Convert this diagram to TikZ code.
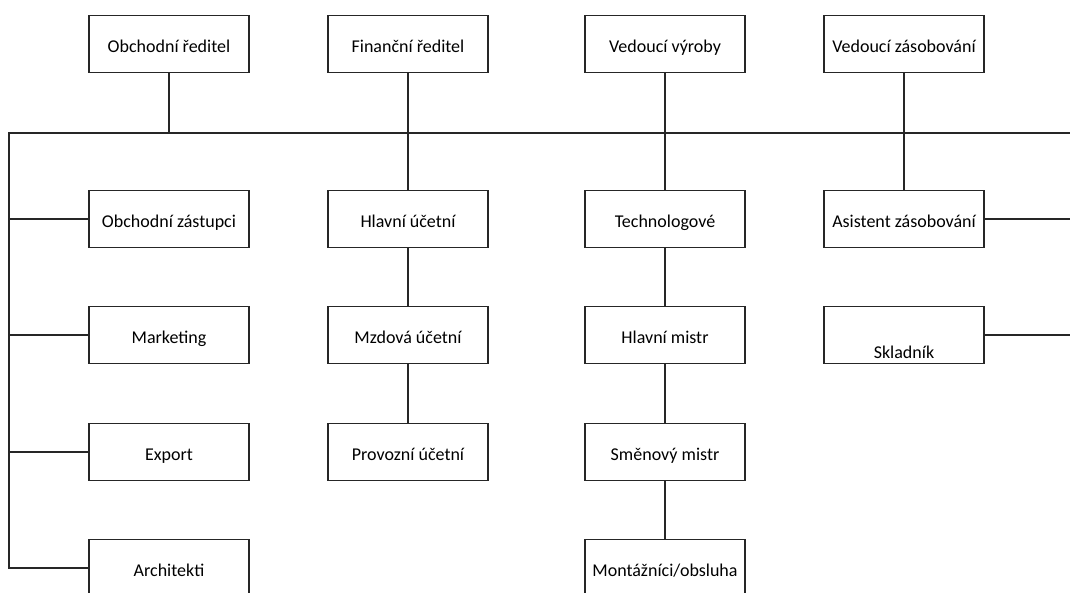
\documentclass[tikz,border=0pt]{standalone}
\usepackage{fontspec}
\setmainfont{Carlito}
\begin{document}
\begin{tikzpicture}[x=1pt,y=-1pt,
  lbl/.style={font=\fontsize{18}{20}\selectfont,text height=20pt,text depth=3pt},
  box/.style={lbl,draw=black!85,line width=1.4pt,minimum width=160pt,minimum height=57pt,inner sep=0pt},
  conn/.style={draw=black!85,line width=1.4pt}]
\useasboundingbox (0,0) rectangle (1070,593);
\clip (0,0) rectangle (1070,593);
% top row
\node[box] (or) at (169,44) {Obchodní ředitel};
\node[box] (fr) at (408,44) {Finanční ředitel};
\node[box] (vv) at (665,44) {Vedoucí výroby};
\node[box] (vz) at (904,44) {Vedoucí zásobování};
% column 1
\node[box] (oz) at (169,219) {Obchodní zástupci};
\node[box] (mk) at (169,335) {Marketing};
\node[box] (ex) at (169,452) {Export};
\node[box] (ar) at (169,568) {Architekti};
% column 2
\node[box] (hu) at (408,219) {Hlavní účetní};
\node[box] (mu) at (408,335) {Mzdová účetní};
\node[box] (pu) at (408,452) {Provozní účetní};
% column 3
\node[box] (te) at (665,219) {Technologové};
\node[box] (hm) at (665,335) {Hlavní mistr};
\node[box] (sm) at (665,452) {Směnový mistr};
\node[box] (mo) at (665,568) {Montážníci/obsluha};
% column 4
\node[box] (az) at (904,219) {Asistent zásobování};
\node[box] (sk) at (904,335) {};
\node[lbl] (skt) at ([yshift=-14.5pt]sk.center) {Skladník};
% bus
\coordinate (busL) at (9,133);
\coordinate (busR) at (1075,133);
\coordinate (busO) at (169,133);
\coordinate (azR) at (1075,219);
\coordinate (skR) at (1075,335);
\draw[conn] (busR) -- (busL) -- (busL |- ar.west) -- (ar.west);
\draw[conn] (or.south) -- (busO);
\draw[conn] (busL |- oz.west) -- (oz.west);
\draw[conn] (busL |- mk.west) -- (mk.west);
\draw[conn] (busL |- ex.west) -- (ex.west);
\draw[conn] (fr.south) -- (hu.north);
\draw[conn] (hu.south) -- (mu.north);
\draw[conn] (mu.south) -- (pu.north);
\draw[conn] (vv.south) -- (te.north);
\draw[conn] (te.south) -- (hm.north);
\draw[conn] (hm.south) -- (sm.north);
\draw[conn] (sm.south) -- (mo.north);
\draw[conn] (vz.south) -- (az.north);
\draw[conn] (az.east) -- (azR);
\draw[conn] (sk.east) -- (skR);
\end{tikzpicture}
\end{document}
